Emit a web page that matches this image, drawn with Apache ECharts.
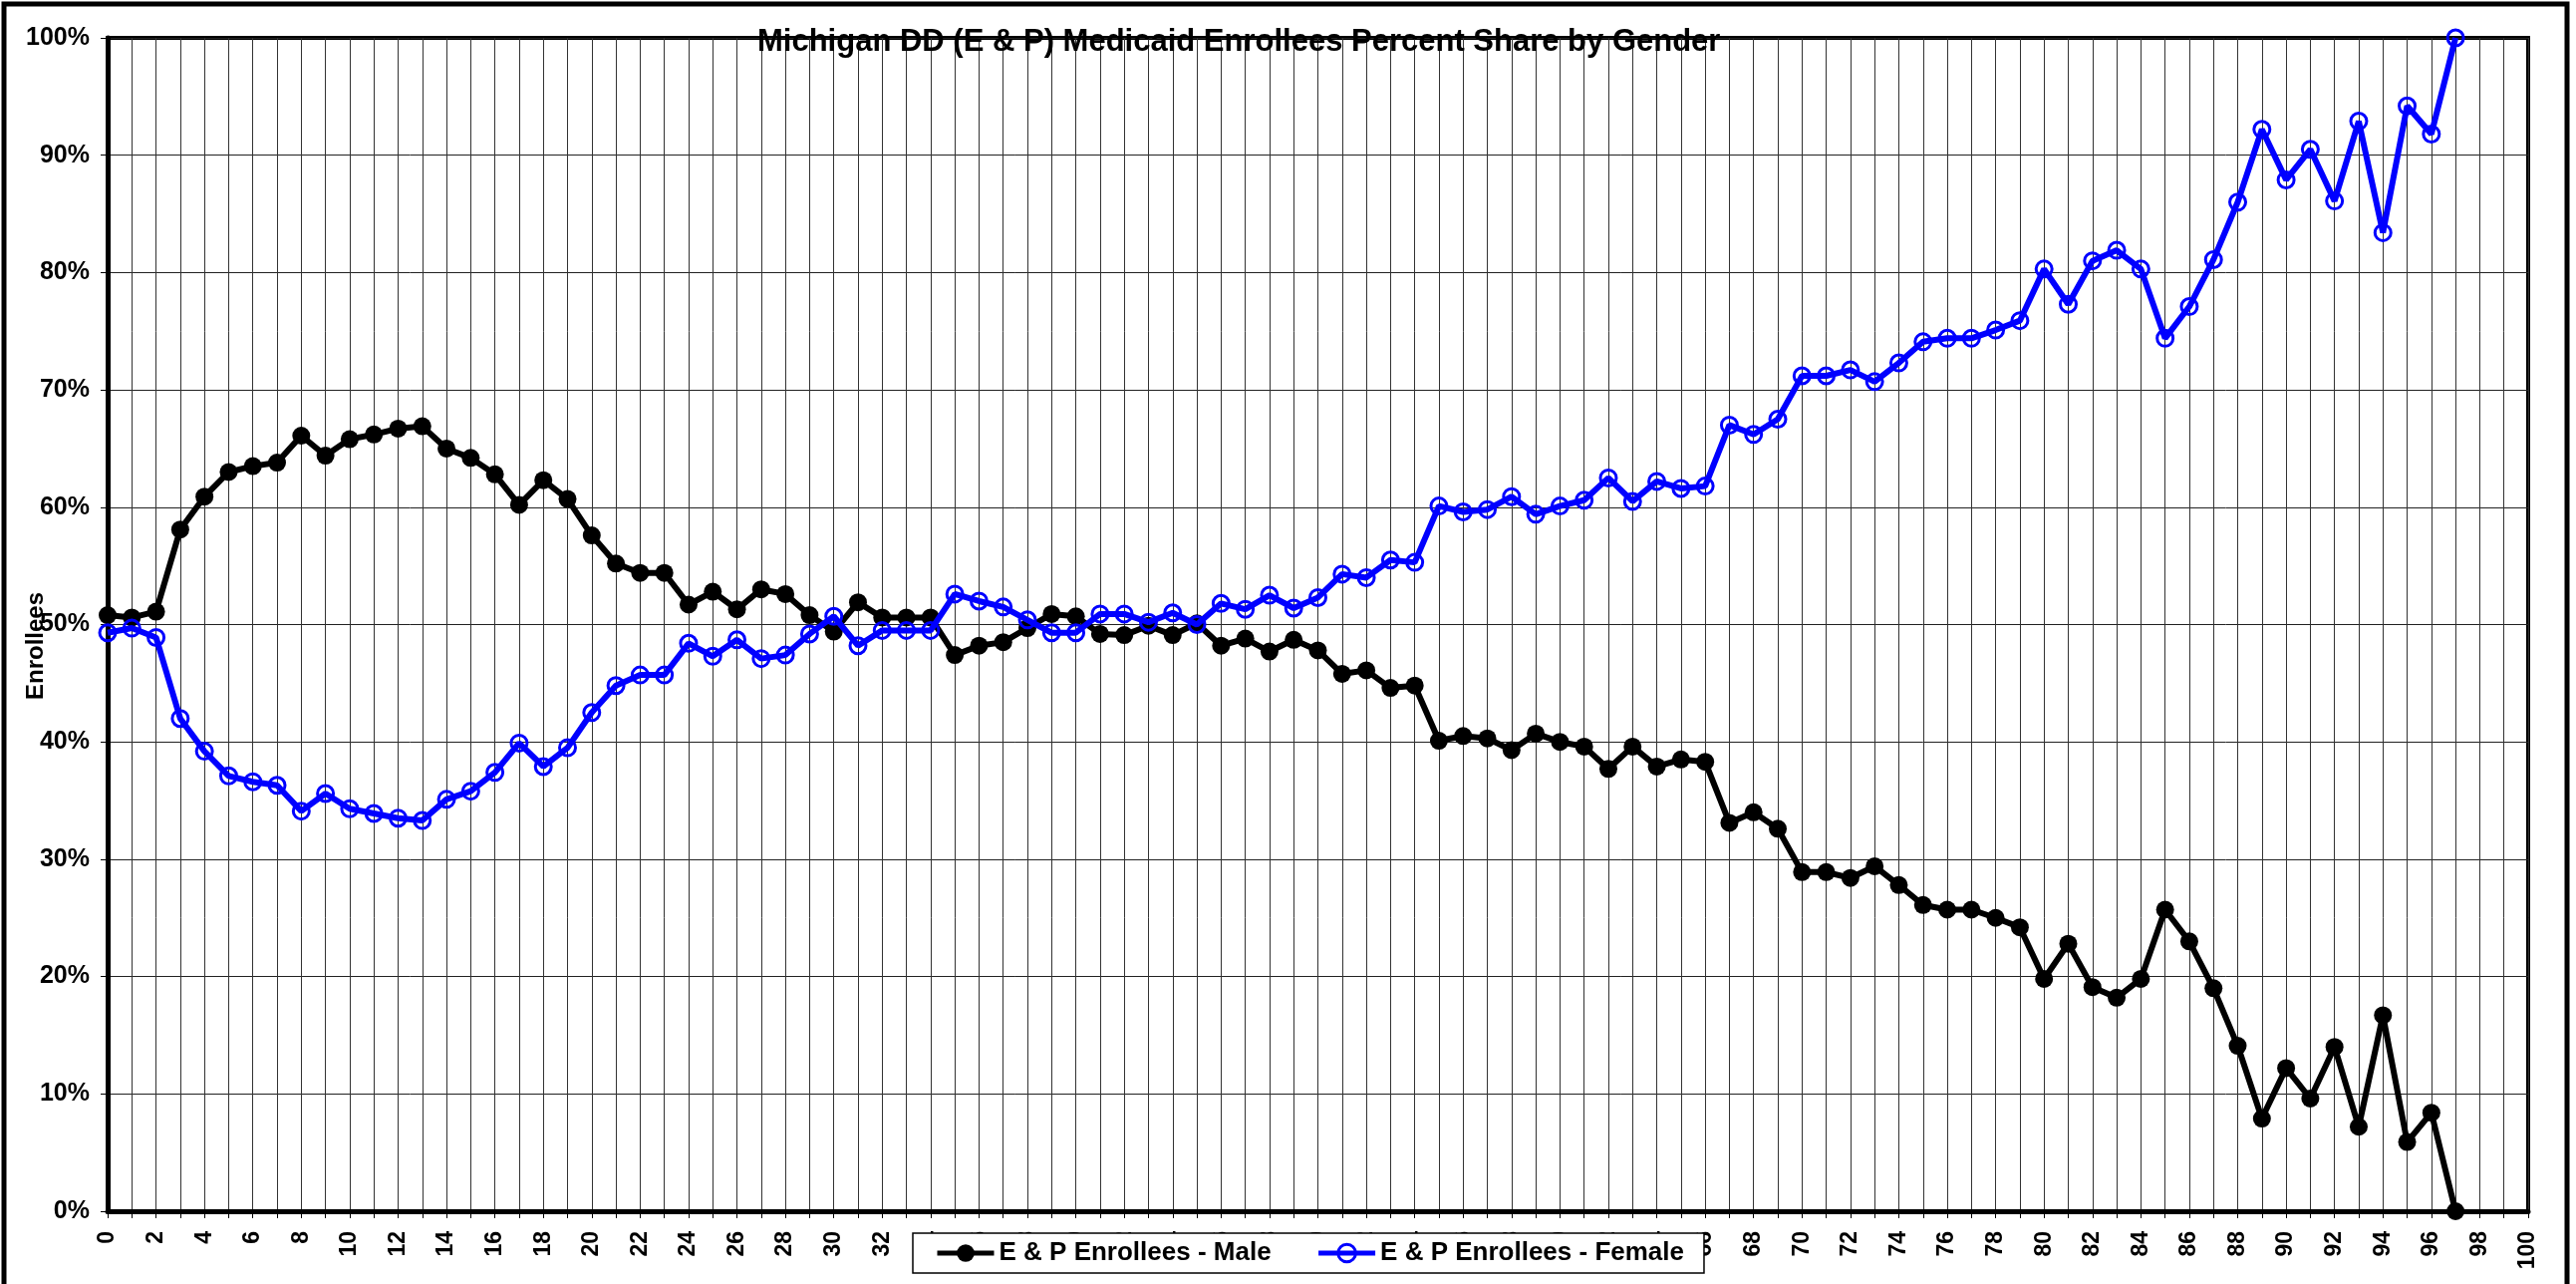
<!DOCTYPE html>
<html>
<head>
<meta charset="utf-8">
<title>Michigan DD (E &amp; P) Medicaid Enrollees Percent Share by Gender</title>
<script src="https://cdn.jsdelivr.net/npm/echarts@6/dist/echarts.min.js"></script>
<style>
  html, body { margin: 0; padding: 0; background: #fff; }
  #chart { width: 2585px; height: 1288px; }
</style>
</head>
<body>
<div id="chart"></div>
<script>
// Age categories on the x axis (0 through 100)
const ages = ['0','1','2','3','4','5','6','7','8','9','10','11','12','13','14','15','16','17','18','19',
  '20','21','22','23','24','25','26','27','28','29','30','31','32','33','34','35','36','37','38','39',
  '40','41','42','43','44','45','46','47','48','49','50','51','52','53','54','55','56','57','58','59',
  '60','61','62','63','64','65','66','67','68','69','70','71','72','73','74','75','76','77','78','79',
  '80','81','82','83','84','85','86','87','88','89','90','91','92','93','94','95','96','97','98','99','100'];

// Percent share of enrollees by age, male
const malePct = [
  50.8, 50.6, 51.1, 58.1, 60.9, 63.0, 63.5, 63.8, 66.1, 64.4,
  65.8, 66.2, 66.7, 66.9, 65.0, 64.2, 62.8, 60.2, 62.3, 60.7,
  57.6, 55.2, 54.4, 54.4, 51.7, 52.8, 51.3, 53.0, 52.6, 50.8,
  49.4, 51.9, 50.6, 50.6, 50.6, 47.4, 48.2, 48.5, 49.7, 50.9,
  50.7, 49.2, 49.1, 49.9, 49.1, 50.1, 48.2, 48.8, 47.7, 48.7,
  47.8, 45.8, 46.1, 44.6, 44.8, 40.1, 40.5, 40.3, 39.3, 40.7,
  40.0, 39.6, 37.7, 39.6, 37.9, 38.5, 38.3, 33.1, 34.0, 32.6,
  28.9, 28.9, 28.4, 29.4, 27.8, 26.1, 25.7, 25.7, 25.0, 24.2,
  19.8, 22.8, 19.1, 18.2, 19.8, 25.7, 23.0, 19.0, 14.1, 7.9,
  12.2, 9.6, 14.0, 7.2, 16.7, 5.9, 8.4, 0
];

// Percent share of enrollees by age, female
const femalePct = [
  49.3, 49.7, 48.9, 42.0, 39.2, 37.1, 36.6, 36.3, 34.1, 35.6,
  34.3, 33.9, 33.5, 33.3, 35.1, 35.8, 37.4, 39.9, 37.9, 39.5,
  42.5, 44.8, 45.7, 45.7, 48.4, 47.3, 48.7, 47.1, 47.4, 49.2,
  50.7, 48.2, 49.5, 49.5, 49.5, 52.6, 52.0, 51.5, 50.4, 49.3,
  49.3, 50.9, 50.9, 50.2, 51.0, 50.0, 51.8, 51.3, 52.5, 51.4,
  52.3, 54.3, 54.0, 55.5, 55.3, 60.1, 59.6, 59.8, 60.9, 59.4,
  60.1, 60.6, 62.5, 60.5, 62.2, 61.6, 61.8, 67.0, 66.2, 67.5,
  71.2, 71.2, 71.7, 70.7, 72.3, 74.1, 74.4, 74.4, 75.1, 75.9,
  80.3, 77.3, 81.0, 81.9, 80.3, 74.4, 77.1, 81.1, 86.0, 92.2,
  87.9, 90.5, 86.1, 92.9, 83.4, 94.2, 91.8, 100
];

const seriesNames = ['E & P Enrollees - Male', 'E & P Enrollees - Female'];
const chartTitle = 'Michigan DD (E & P) Medicaid Enrollees Percent Share by Gender';
const yAxisTitle = 'Enrollees';

const FONT = '"Liberation Sans", Arial, Helvetica, sans-serif';
const chart = echarts.init(document.getElementById('chart'), null, { renderer: 'canvas' });

chart.setOption({
  animation: false,
  backgroundColor: '#ffffff',
  title: {
    text: chartTitle,
    left: 760,
    top: 27,
    padding: 0,
    textStyle: { fontFamily: FONT, fontWeight: 'bold', fontSize: 31, color: '#000' }
  },
  graphic: [
    {
      type: 'rect',
      z: -10,
      shape: { x: 4, y: 4, width: 2572, height: 1320 },
      style: { fill: 'none', stroke: '#000', lineWidth: 5 }
    },
    {
      type: 'text',
      x: 36,
      y: 648,
      rotation: Math.PI / 2,
      style: {
        text: yAxisTitle,
        font: 'bold 24px ' + FONT,
        fill: '#000',
        textAlign: 'center',
        textVerticalAlign: 'middle'
      }
    }
  ],
  legend: {
    data: [
      { name: seriesNames[0] },
      { name: seriesNames[1], itemStyle: { borderWidth: 3, borderColor: '#0000ff', color: 'rgba(0,0,0,0)' } }
    ],
    left: 916,
    top: 1237,
    orient: 'horizontal',
    backgroundColor: '#fff',
    borderColor: '#000',
    borderWidth: 1.5,
    padding: [7, 20, 7, 22],
    itemGap: 45,
    itemWidth: 57,
    itemHeight: 22,
    lineStyle: { width: 5 },
    textStyle: { fontFamily: FONT, fontWeight: 'bold', fontSize: 26, color: '#000' }
  },
  grid: {
    left: 108,
    top: 38,
    width: 2429,
    height: 1177,
    show: true,
    borderColor: '#000',
    borderWidth: 4,
    backgroundColor: '#fff'
  },
  xAxis: {
    type: 'category',
    data: ages,
    boundaryGap: false,
    axisLine: { show: true, lineStyle: { color: '#000', width: 5 } },
    axisTick: { show: true, interval: 0, length: 7, lineStyle: { color: '#000', width: 1 } },
    axisLabel: {
      interval: 1,
      rotate: 90,
      margin: 20,
      fontFamily: FONT,
      fontWeight: 'bold',
      fontSize: 23,
      color: '#000'
    },
    splitLine: { show: true, interval: 0, lineStyle: { color: '#333', width: 1 } }
  },
  yAxis: {
    type: 'value',
    min: 0,
    max: 100,
    interval: 10,
    axisLine: { show: true, lineStyle: { color: '#000', width: 5 } },
    axisTick: { show: true, length: 7, lineStyle: { color: '#000', width: 1 } },
    axisLabel: {
      formatter: '{value}%',
      margin: 18,
      fontFamily: FONT,
      fontWeight: 'bold',
      fontSize: 25,
      color: '#000'
    },
    splitLine: { show: true, lineStyle: { color: '#222', width: 1 } }
  },
  series: [
    {
      name: seriesNames[0],
      type: 'line',
      data: malePct,
      symbol: 'circle',
      symbolSize: 18,
      showAllSymbol: true,
      lineStyle: { color: '#000', width: 6 },
      itemStyle: { color: '#000' },
      z: 2
    },
    {
      name: seriesNames[1],
      type: 'line',
      data: femalePct,
      symbol: 'circle',
      symbolSize: 16,
      showAllSymbol: true,
      lineStyle: { color: '#0000ff', width: 6 },
      itemStyle: { color: 'rgba(0,0,0,0)', borderColor: '#0000ff', borderWidth: 3 },
      z: 3
    }
  ]
});
</script>
</body>
</html>
